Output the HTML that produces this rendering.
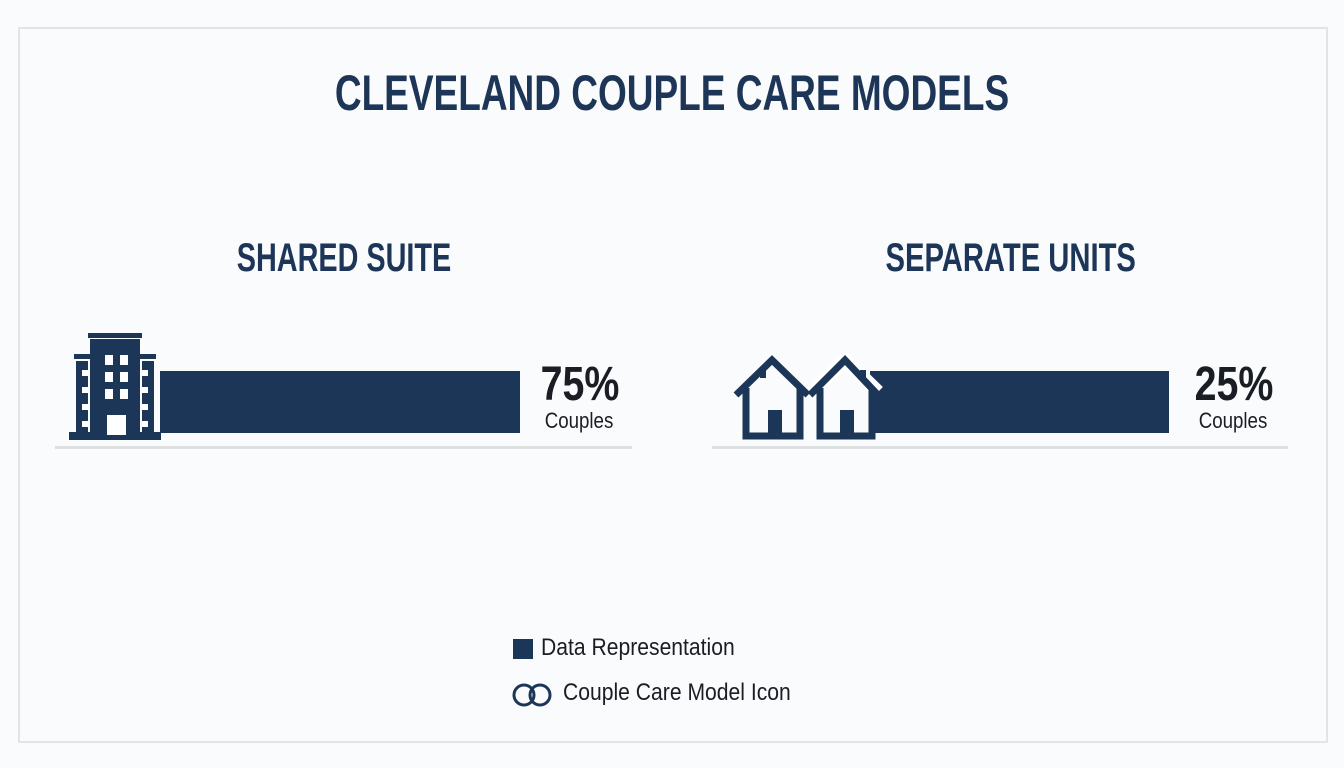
<!DOCTYPE html>
<html><head><style>
body{margin:0;width:1344px;height:768px;background:#fafbfc;position:relative;overflow:hidden;font-family:"Liberation Sans",sans-serif;}
.a{position:absolute;}
.box{left:18px;top:27px;width:1306px;height:712px;border:2px solid #e2e4e6;}
.t{color:#1d3557;font-weight:bold;white-space:nowrap;text-align:center;transform-origin:center;}
.bar{background:#1c3657;}
.line{height:3px;background:#dedfe0;}
.pct{font-weight:bold;font-size:48px;color:#1a1e24;text-align:center;width:100px;line-height:50px;transform:scaleX(0.82);}
.cp{font-size:22px;color:#1a1e24;text-align:center;width:100px;transform:scaleX(0.85);}
.lg{font-size:24px;color:#1a1e24;transform-origin:left;transform:scaleX(0.88);white-space:nowrap;}
</style></head><body>
<div class="a box"></div>
<div class="a t" style="left:0;width:1344px;top:64px;font-size:50px;transform:scaleX(0.74);">CLEVELAND COUPLE CARE MODELS</div>
<div class="a t" style="left:194px;width:300px;top:236px;font-size:40px;transform:scaleX(0.72);">SHARED SUITE</div>
<div class="a t" style="left:845px;width:300px;top:236px;font-size:40px;transform:scaleX(0.73);">SEPARATE UNITS</div>

<div class="a line" style="left:55px;top:446px;width:577px;"></div>
<div class="a line" style="left:712px;top:446px;width:576px;"></div>

<div class="a bar" style="left:160px;top:371px;width:360px;height:62px;"></div>
<div class="a bar" style="left:870px;top:371px;width:299px;height:62px;"></div>

<svg class="a" style="left:60px;top:325px" width="110" height="120">
<rect x="28" y="8" width="54" height="5" fill="#1c3657"/>
<rect x="30" y="14" width="50" height="100" fill="#1c3657"/>
<rect x="14" y="29" width="16" height="5" fill="#1c3657"/>
<rect x="80" y="29" width="16" height="5" fill="#1c3657"/>
<rect x="16" y="36" width="12" height="78" fill="#1c3657"/>
<rect x="82" y="36" width="12" height="78" fill="#1c3657"/>
<rect x="9" y="107" width="92" height="8" fill="#1c3657"/>
<g fill="#fff">
<rect x="45" y="30" width="8" height="10"/><rect x="60" y="30" width="8" height="10"/>
<rect x="45" y="47" width="8" height="10"/><rect x="60" y="47" width="8" height="10"/>
<rect x="45" y="64" width="8" height="10"/><rect x="60" y="64" width="8" height="10"/>
<rect x="47" y="90" width="19" height="20"/>
<rect x="22" y="45" width="6" height="6"/><rect x="22" y="62" width="6" height="6"/><rect x="22" y="79" width="6" height="6"/><rect x="22" y="96" width="6" height="6"/>
<rect x="82" y="45" width="6" height="6"/><rect x="82" y="62" width="6" height="6"/><rect x="82" y="79" width="6" height="6"/><rect x="82" y="96" width="6" height="6"/>
</g></svg>

<svg class="a" style="left:730px;top:350px" width="155" height="95">
<g fill="none" stroke="#fff" stroke-width="14" stroke-linejoin="round">
<path d="M78 45 L115 10 L148 42"/></g>
<g fill="none" stroke="#1c3657" stroke-width="7" stroke-linejoin="miter">
<path d="M6 45 L42 10 L78 45"/><path d="M16 38 V86 H70 V38"/>
<path d="M80 45 L115 10 L148 45"/><path d="M90 38 V86 H142 V38"/>
</g>
<rect x="30" y="20" width="6" height="8" fill="#1c3657"/>
<rect x="130" y="20" width="6" height="10" fill="#1c3657"/>
<rect x="38" y="60" width="14" height="28" fill="#1c3657"/>
<rect x="110" y="60" width="14" height="28" fill="#1c3657"/>
</svg>

<div class="a pct" style="left:530px;top:360px;">75%</div>
<div class="a cp" style="left:529px;top:408px;">Couples</div>
<div class="a pct" style="left:1184px;top:360px;">25%</div>
<div class="a cp" style="left:1183px;top:408px;">Couples</div>

<div class="a bar" style="left:513px;top:639px;width:20px;height:20px;"></div>
<div class="a lg" style="left:541px;top:634px;">Data Representation</div>
<svg class="a" style="left:511px;top:682px" width="46" height="26">
<circle cx="13" cy="13" r="10" fill="none" stroke="#1c3657" stroke-width="3"/>
<circle cx="29" cy="13" r="10" fill="none" stroke="#1c3657" stroke-width="3"/>
</svg>
<div class="a lg" style="left:563px;top:679px;">Couple Care Model Icon</div>
</body></html>
